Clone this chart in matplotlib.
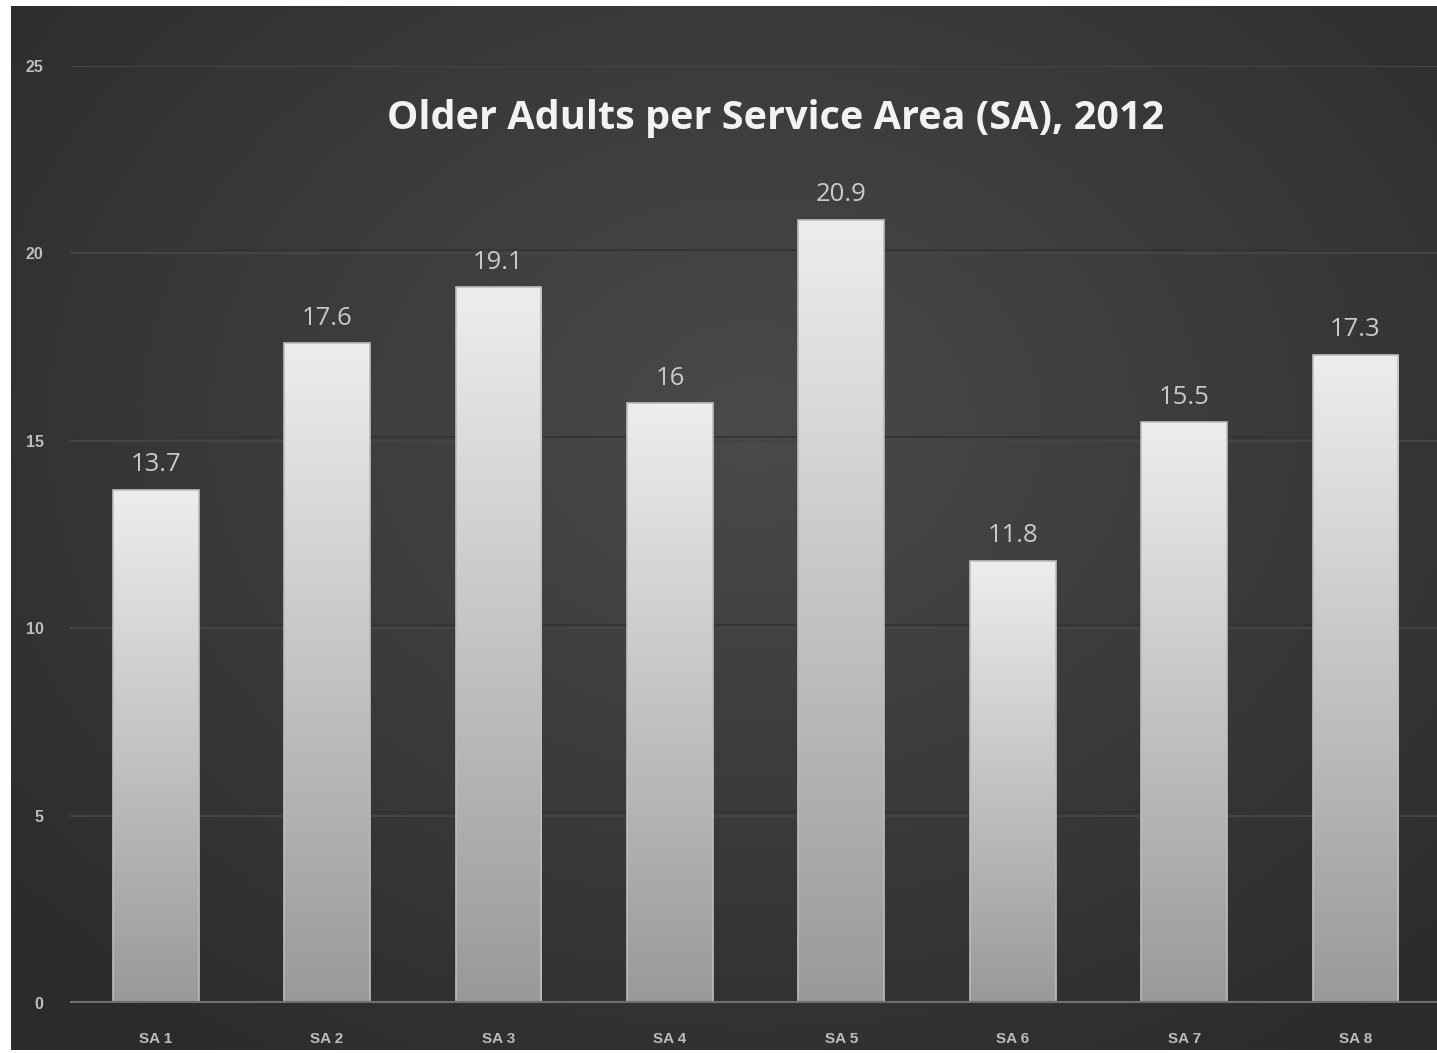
import numpy as np
import matplotlib
matplotlib.use("Agg")
import matplotlib.pyplot as plt
from matplotlib.patches import Rectangle

# Dati: anziani per area di servizio, 2012
aree = ["SA 1", "SA 2", "SA 3", "SA 4", "SA 5", "SA 6", "SA 7", "SA 8"]
valori = [13.7, 17.6, 19.1, 16, 20.9, 11.8, 15.5, 17.3]
etichette = ["13.7", "17.6", "19.1", "16", "20.9", "11.8", "15.5", "17.3"]
tick_y = [0, 5, 10, 15, 20, 25]

W, H = 1437, 1053
fig = plt.figure(figsize=(W / 100, H / 100), dpi=100, facecolor="white")

# Sfondo scuro con sfumatura radiale
bg = fig.add_axes([11 / W, 3 / H, (W - 11) / W, (H - 9) / H])
bg.set_axis_off()
yy, xx = np.mgrid[0:1:400j, 0:1:500j]
dist = np.sqrt(((xx - 0.52) / 0.75) ** 2 + ((yy - 0.4) / 0.8) ** 2)
shade = np.clip(0.29 - 0.13 * dist, 0.17, 0.29)
bg.imshow(np.dstack([shade] * 3), aspect="auto", extent=(0, 1, 0, 1),
          origin="upper", interpolation="bicubic")
bg.set_xlim(0, 1)
bg.set_ylim(0, 1)

# Area del grafico
x0, x1 = 70, 1437
y_bottom, y_top = 1003, 66
ax = fig.add_axes([x0 / W, (H - y_bottom) / H, (x1 - x0) / W, (y_bottom - y_top) / H])
ax.patch.set_alpha(0)
passo = 171.4
ax.set_xlim(-0.5, -0.5 + (x1 - x0) / passo)
ax.set_ylim(0, 25)

for t in tick_y[1:]:
    ax.axhline(t, color="#444444", lw=1.5, zorder=1)
    ax.axhline(t + 0.09, color="#333333", lw=1.2, zorder=1)
ax.axhline(0, color="#707070", lw=3, zorder=4)

# Barre con sfumatura verticale
grad = np.linspace(0.93, 0.60, 256).reshape(-1, 1)
grad = np.dstack([grad] * 3)
barre = ax.bar(range(len(aree)), valori, width=0.5, color="none",
               edgecolor="#bdbdbd", linewidth=1.2, zorder=3)
for b in barre:
    bx, by = b.get_x(), b.get_y()
    bw, bh = b.get_width(), b.get_height()
    im = ax.imshow(grad, extent=(bx, bx + bw, by, by + bh), aspect="auto",
                   origin="upper", zorder=2, interpolation="bicubic")
    im.set_clip_path(Rectangle((bx, by), bw, bh, transform=ax.transData))
ax.set_xlim(-0.5, -0.5 + (x1 - x0) / passo)
ax.set_ylim(0, 25)

for i, (v, s) in enumerate(zip(valori, etichette)):
    ax.annotate(s, (i, v), xytext=(0, 9), textcoords="offset points",
                ha="center", va="bottom", color="#c9c9c9", fontsize=18.5,
                family="Open Sans", zorder=5)

ax.set_xticks(range(len(aree)))
ax.set_xticklabels(aree, color="#bdbdbd", fontsize=11, fontweight="bold",
                   family="Liberation Sans")
ax.set_yticks(tick_y)
ax.set_yticklabels([str(t) for t in tick_y], color="#bdbdbd", fontsize=11.5,
                   fontweight="bold", family="Liberation Sans")
ax.tick_params(axis="x", length=0, pad=21)
ax.tick_params(axis="y", length=0, pad=19)
for s in ax.spines.values():
    s.set_visible(False)

fig.text(776 / W, 1 - 119 / H, "Older Adults per Service Area (SA), 2012",
         ha="center", va="center", color="#f2f2f2", fontsize=28.5,
         fontweight="bold", family="Open Sans")

fig.savefig("out.png", dpi=100, facecolor="white")
